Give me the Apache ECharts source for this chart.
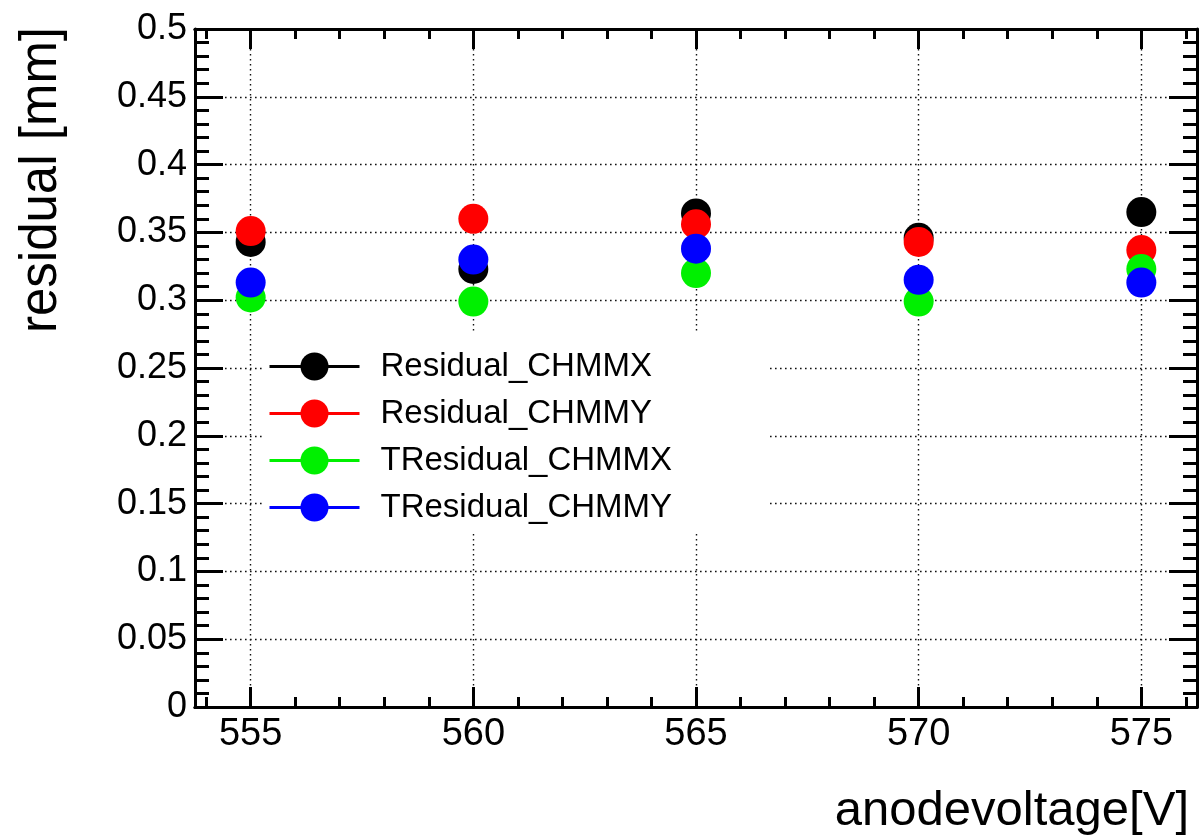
<!DOCTYPE html>
<html>
<head>
<meta charset="utf-8">
<script src="https://cdn.jsdelivr.net/npm/echarts@6/dist/echarts.min.js"></script>
<style>
html,body{margin:0;padding:0;background:#fff;}
#chart{width:1201px;height:840px;}
</style>
</head>
<body>
<div id="chart"></div>
<script>
// ---- data ----
const voltages = [555, 560, 565, 570, 575];
const residualCHMMX  = [0.343, 0.323, 0.364, 0.346, 0.365];
const residualCHMMY  = [0.351, 0.360, 0.356, 0.343, 0.337];
const tresidualCHMMX = [0.302, 0.299, 0.320, 0.299, 0.323];
const tresidualCHMMY = [0.313, 0.330, 0.338, 0.315, 0.313];
const seriesNames = ['Residual_CHMMX', 'Residual_CHMMY', 'TResidual_CHMMX', 'TResidual_CHMMY'];
const seriesColors = ['#000000', '#ff0000', '#00f000', '#0000ff'];
const xTitle = 'anodevoltage[V]';
const yTitle = 'residual [mm]';

const FONT = 'Liberation Sans, Arial, Helvetica, sans-serif';
const chart = echarts.init(document.getElementById('chart'), null, {renderer: 'canvas'});

const seriesValues = [residualCHMMX, residualCHMMY, tresidualCHMMX, tresidualCHMMY];
const series = seriesNames.map((name, i) => ({
  name: name,
  type: 'line',
  xAxisIndex: 0,
  yAxisIndex: 0,
  data: voltages.map((v, j) => [v, seriesValues[i][j]]),
  symbol: 'circle',
  symbolSize: 30,
  showSymbol: true,
  lineStyle: {width: 0, color: seriesColors[i]},
  itemStyle: {color: seriesColors[i]},
  emphasis: {disabled: true},
  z: 3 + i
}));

const gridLine = {show: true, lineStyle: {color: '#111', width: 1.4, type: [1.6, 3.4]}};
const axisLine = {show: true, onZero: false, lineStyle: {color: '#000', width: 3}};

function xAxisDef(position, major) {
  return {
    type: 'value',
    gridIndex: 0,
    position: position,
    min: 553.75,
    max: 576.25,
    minInterval: major ? 5 : 1,
    maxInterval: major ? 5 : 1,
    axisLine: axisLine,
    axisTick: {show: true, inside: true, length: major ? 20 : 10, lineStyle: {color: '#000', width: 3}},
    minorTick: {show: false},
    axisLabel: {
      show: major && position === 'bottom',
      fontFamily: FONT, fontSize: 38, color: '#000', margin: 9,
      showMinLabel: false, showMaxLabel: false,
      formatter: v => (Math.abs(v % 5) < 1e-9 ? String(v) : '')
    },
    splitLine: (major && position === 'bottom') ? gridLine : {show: false}
  };
}

function yAxisDef(position) {
  return {
    type: 'value',
    gridIndex: 0,
    position: position,
    min: 0,
    max: 0.5,
    interval: 0.05,
    axisLine: axisLine,
    axisTick: {show: true, inside: true, length: 28, lineStyle: {color: '#000', width: 3}},
    minorTick: {show: true, splitNumber: 5, length: 14, lineStyle: {color: '#000', width: 3}},
    axisLabel: {
      show: position === 'left',
      fontFamily: FONT, fontSize: 36, color: '#000', margin: 8
    },
    splitLine: position === 'left' ? gridLine : {show: false}
  };
}

const option = {
  animation: false,
  backgroundColor: '#ffffff',
  grid: {left: 195, right: 4, top: 29, bottom: 133, containLabel: false, outerBoundsMode: 'none'},
  xAxis: [xAxisDef('bottom', true), xAxisDef('bottom', false), xAxisDef('top', true), xAxisDef('top', false)],
  yAxis: [yAxisDef('left'), yAxisDef('right')],
  legend: {
    show: true,
    orient: 'vertical',
    left: 262,
    top: 333,
    padding: [17, 95, 10, 6],
    itemWidth: 90,
    itemHeight: 35,
    itemGap: 14,
    backgroundColor: '#ffffff',
    borderWidth: 0,
    selectedMode: false,
    data: seriesNames,
    lineStyle: {width: 3},
    textStyle: {fontFamily: FONT, fontSize: 33, color: '#000', padding: [0, 0, 0, 16]}
  },
  graphic: [
    {
      type: 'text',
      x: 1189, y: 811,
      style: {text: xTitle, font: '49px ' + FONT, fill: '#000', align: 'right', verticalAlign: 'middle'}
    },
    {
      type: 'text',
      x: 42, y: 180,
      rotation: Math.PI / 2,
      style: {text: yTitle, font: '51px ' + FONT, fill: '#000', align: 'center', verticalAlign: 'middle'}
    }
  ],
  series: series
};
chart.setOption(option);
</script>
</body>
</html>
